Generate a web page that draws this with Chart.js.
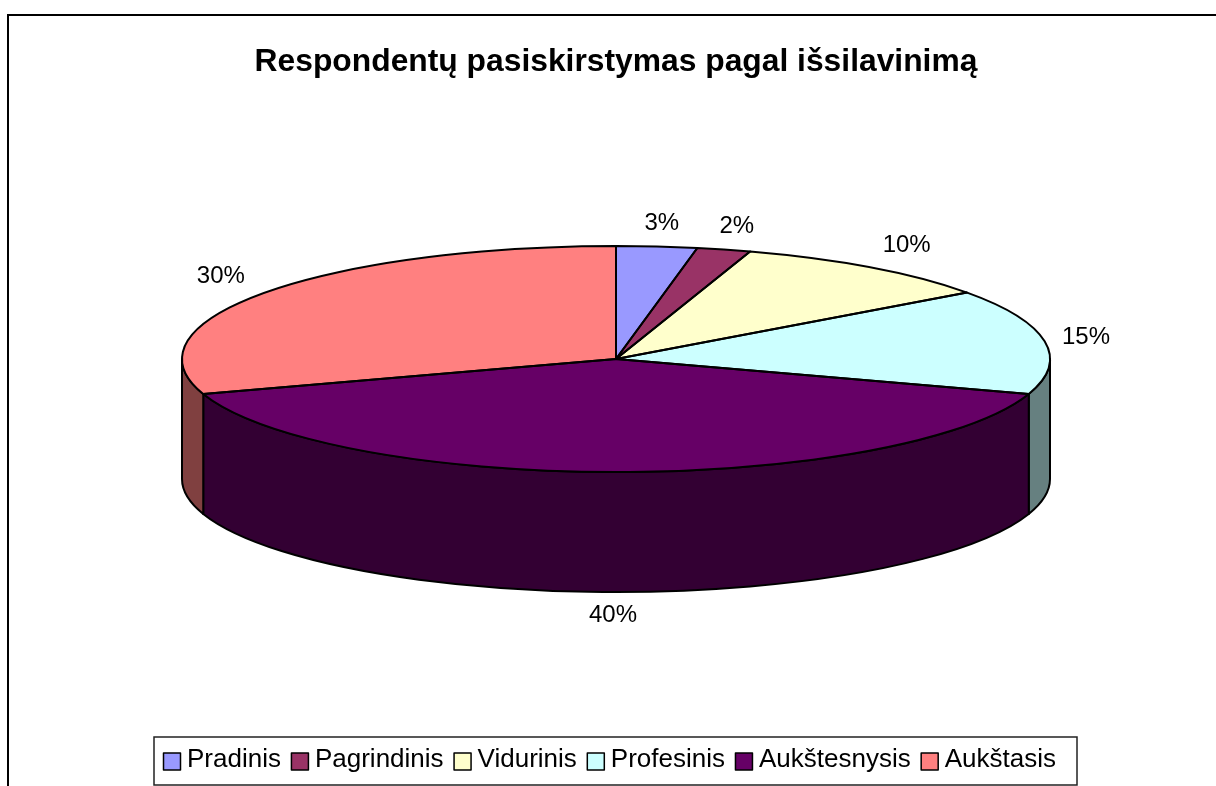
<!DOCTYPE html>
<html><head><meta charset="utf-8">
<style>html,body{margin:0;padding:0;background:#fff}canvas{display:block}</style>
<script src="https://cdn.jsdelivr.net/npm/chart.js@4"></script>
</head><body>
<div style="position:relative;width:1216px;height:786px;overflow:hidden"><canvas id="c" width="1216" height="786"></canvas></div>
<script>
const categories=["Pradinis","Pagrindinis","Vidurinis","Profesinis","Aukštesnysis","Aukštasis"];
const values=[3,2,10,15,40,30];
const colors=["#9999FF","#993366","#FFFFCC","#CCFFFF","#660066","#FF8080"];
const wallColors=["#4D4D80","#4D1A33","#808066","#668080","#330033","#804040"];
const titleText="Respondentų pasiskirstymas pagal išsilavinimą";
const labelNudgeX=[0,0,5,-10,-3,-2];
const labelNudgeY=[5,4,0,0,1,0];
const CX=616,CY=359,RX=434,RY=113,DEPTH=120;
const LEG={left:154,top:737,right:1077,bottom:785};
const f="'Liberation Sans',Arial,sans-serif";
function ellipse(ctx,a0,a1,acw){ctx.ellipse(CX,CY,RX,RY,0,a0,a1,!!acw);}
const pie3d={id:'pie3d',
 beforeDatasetsDraw(chart){const ctx=chart.ctx,arcs=chart.getDatasetMeta(0).data;
  ctx.lineJoin='round';
  arcs.forEach((a,i)=>{
   let s=Math.max(a.startAngle,0),e=Math.min(a.endAngle,Math.PI);
   if(a.startAngle<Math.PI&&a.endAngle>0){
    ctx.beginPath();ellipse(ctx,s,e);
    ctx.lineTo(CX+RX*Math.cos(e),CY+RY*Math.sin(e)+DEPTH);
    ctx.ellipse(CX,CY+DEPTH,RX,RY,0,e,s,true);ctx.closePath();
    ctx.fillStyle=wallColors[i];ctx.fill();
    ctx.strokeStyle='#000';ctx.lineWidth=2;ctx.stroke();
   }
  });
  const a=arcs[0];ctx.save();ctx.translate(CX,CY);ctx.scale(RX/a.outerRadius,RY/a.outerRadius);ctx.translate(-a.x,-a.y);
 },
 afterDatasetsDraw(chart){const ctx=chart.ctx,arcs=chart.getDatasetMeta(0).data;ctx.restore();
  ctx.strokeStyle='#000';ctx.lineWidth=2;ctx.lineJoin='round';
  arcs.forEach(a=>{ctx.beginPath();ctx.moveTo(CX,CY);ellipse(ctx,a.startAngle,a.endAngle);ctx.closePath();ctx.stroke();});
  ctx.fillStyle='#000';ctx.font="24px "+f;ctx.textAlign='center';ctx.textBaseline='middle';
  arcs.forEach((a,i)=>{const m=(a.startAngle+a.endAngle)/2;const c=Math.cos(m),s=Math.sin(m);
   const x=CX+486*c+labelNudgeX[i];const y=CY+141*s+(s>0.5?DEPTH-6:0)+labelNudgeY[i];
   ctx.fillText(values[i]+'%',x,y);});
 }
};
const frame={id:'frame',beforeDraw(chart){const ctx=chart.ctx;ctx.strokeStyle='#000';ctx.lineWidth=2;
  ctx.beginPath();ctx.moveTo(8,786);ctx.lineTo(8,15);ctx.lineTo(1216,15);ctx.stroke();
  ctx.lineWidth=1.5;ctx.strokeStyle='#222';
  ctx.strokeRect(LEG.left,LEG.top,LEG.right-LEG.left,LEG.bottom-LEG.top);},
 afterDraw(chart){const ctx=chart.ctx;const hits=chart.legend.legendHitBoxes;
  hits.forEach((h,i)=>{ctx.fillStyle=colors[i];ctx.fillRect(h.left+0.5,753,17,17);
   ctx.strokeStyle='#000';ctx.lineWidth=1.5;ctx.strokeRect(h.left+0.5,753,17,17);});}
};
new Chart(document.getElementById('c'),{type:'pie',
 data:{labels:categories,datasets:[{data:values,backgroundColor:colors,borderWidth:0}]},
 plugins:[frame,pie3d],
 options:{responsive:false,animation:false,rotation:0,
  layout:{padding:{left:153,right:137,top:0,bottom:3}},
  plugins:{
   tooltip:{enabled:false},
   title:{display:true,text:titleText,color:'#000',font:{family:f,size:31.8,weight:'bold'},padding:{top:43,bottom:0}},
   legend:{position:'bottom',align:'start',labels:{color:'#000',font:{family:f,size:26},boxWidth:11,padding:10,
     generateLabels(chart){return categories.map((t,i)=>({text:t,fillStyle:'rgba(0,0,0,0)',strokeStyle:'rgba(0,0,0,0)',lineWidth:0,index:i,fontColor:'#000'}));}}}
  }}});
</script></body></html>
